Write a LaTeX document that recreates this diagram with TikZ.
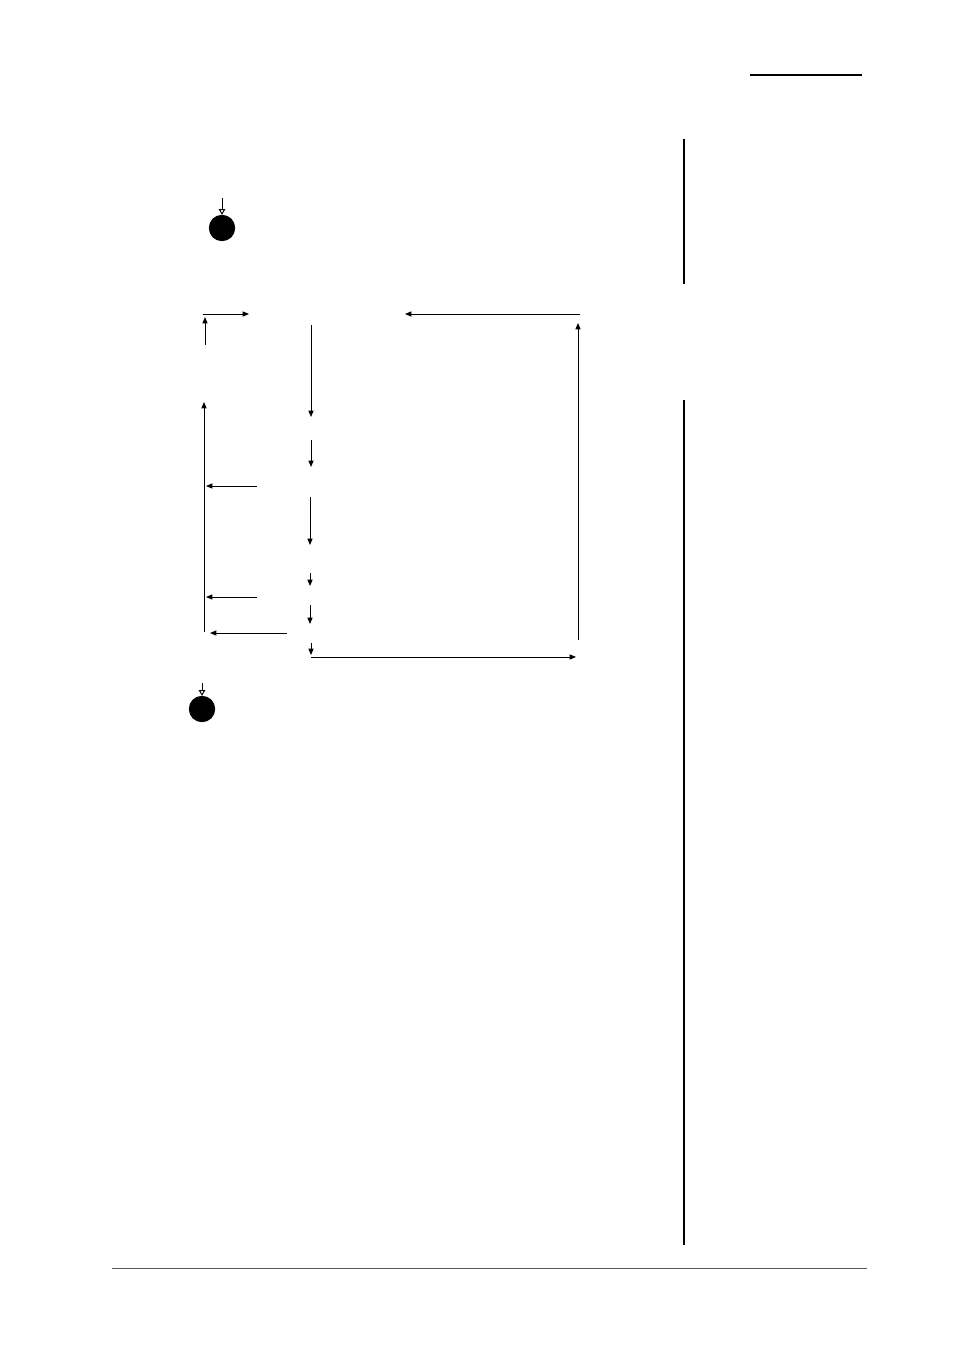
\documentclass[tikz,border=0pt]{standalone}
\usetikzlibrary{arrows.meta}
\tikzset{
  flow/.style={-{Triangle[length=4pt,width=3.2pt]}, line width=0.6pt},
  init/.style={-{Triangle[open,length=3.5pt,width=4pt]}, line width=0.6pt},
  dot/.style={draw,circle,fill,minimum size=16pt,inner sep=0pt},
  rule/.style={line width=0.8pt}}

\begin{document}
\begin{tikzpicture}[x=0.6237pt,y=-0.6237pt]
\useasboundingbox (0,0) rectangle (954,1350);
% page rules
\coordinate (hl) at (750,75);  \coordinate (hr) at (862,75);
\coordinate (m1t) at (684,139); \coordinate (m1b) at (684,284);
\coordinate (m2t) at (684,400); \coordinate (m2b) at (684,1245);
\coordinate (fl) at (112,1268); \coordinate (fr) at (867,1268);
\draw [rule] (hl) -- (hr);
\draw [rule] (m1t) -- (m1b);
\draw [rule] (m2t) -- (m2b);
\draw [line width=0.6pt, black!65] (fl) -- (fr);

% start and end
\node (start) at (222,228) [dot] {};
\coordinate (s0) at (222,198);
\draw [init] (s0) -- (start);
\node (stop) at (202,709) [dot] {};
\coordinate (e0) at (202,683);
\draw [init] (e0) -- (stop);

% top loop
\coordinate (a1) at (205,345); \coordinate (a2) at (205,317);
\coordinate (b1) at (203,314); \coordinate (b2) at (249,314);
\coordinate (c1) at (580,314); \coordinate (c2) at (405,314);
\coordinate (d1) at (578,640); \coordinate (d2) at (578,323);
\draw [flow] (a1) -- (a2);
\draw [flow] (b1) -- (b2);
\draw [flow] (c1) -- (c2);
\draw [flow] (d1) -- (d2);

% main column
\coordinate (v1) at (311,325); \coordinate (v2) at (311,417);
\coordinate (v3) at (311,440); \coordinate (v4) at (311,467);
\coordinate (v5) at (310,497); \coordinate (v6) at (310,545);
\coordinate (v7) at (310,573); \coordinate (v8) at (310,586);
\coordinate (v9) at (310,605); \coordinate (v10) at (310,624);
\coordinate (v11) at (311,643); \coordinate (v12) at (311,655);
\draw [flow] (v1) -- (v2);
\draw [flow] (v3) -- (v4);
\draw [flow] (v5) -- (v6);
\draw [flow] (v7) -- (v8);
\draw [flow] (v9) -- (v10);
\draw [flow] (v11) -- (v12);
\coordinate (r1) at (311,657); \coordinate (r2) at (576,657);
\draw [flow] (r1) -- (r2);

% back edges
\coordinate (u1) at (204,632); \coordinate (u2) at (204,402);
\draw [flow] (u1) -- (u2);
\coordinate (l1) at (257,486); \coordinate (l2) at (206,486);
\coordinate (l3) at (257,597); \coordinate (l4) at (206,597);
\coordinate (l5) at (287,633); \coordinate (l6) at (210,633);
\draw [flow] (l1) -- (l2);
\draw [flow] (l3) -- (l4);
\draw [flow] (l5) -- (l6);
\end{tikzpicture}
\end{document}
